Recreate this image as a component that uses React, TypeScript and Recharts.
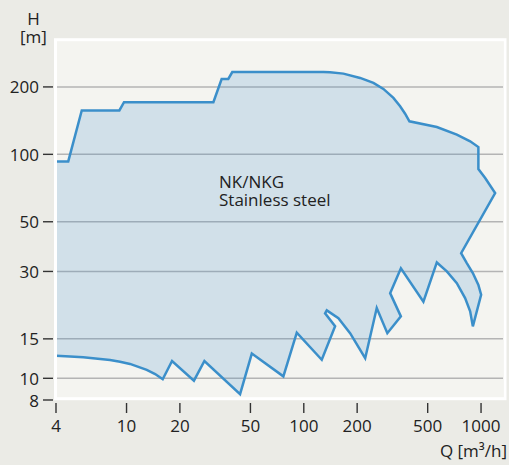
import React from 'react';
import { ComposedChart, Scatter, XAxis, YAxis, CartesianGrid } from 'recharts';

// outline of the NK/NKG field
// top edge, left to right
const topQ = [4, 4.69, 5.59, 9.11, 9.68, 30.9, 34.4, 37.5, 39.5, 129, 140.7, 167.3, 207.8, 247.1, 281.2, 320.3, 349.5, 372.9, 394.4];
const topH = [93, 93, 157, 157, 171, 171, 217, 217, 233, 233, 232.4, 229.3, 219.4, 208.4, 195.9, 178.6, 163.8, 151.9, 140.4];

// right edge, top to bottom
const rightQ = [563, 730, 868, 966, 966, 1055, 1201, 772, 831, 899, 966, 1001, 899];
const rightH = [132.5, 122.4, 114.3, 107.8, 86, 78.4, 67.2, 36.2, 32.7, 29.5, 26.1, 23.6, 17.05];

// bottom edge, right to left
const bottomQ = [868, 813, 730, 641, 563, 473, 353, 307, 353, 296, 258, 222, 182.5, 156.8, 134.8, 131.9, 150.2, 126.3, 91.3, 76.7, 50.9, 43.7, 27.5, 24.0, 18.06, 16.0, 14.5, 13.0, 10.46, 9.19, 8.07, 5.7, 4.8, 4];
const bottomH = [19.9, 22.8, 26.6, 30, 32.9, 22, 31, 24, 18.9, 15.9, 20.6, 12.3, 15.9, 18.55, 20.1, 19.5, 17.1, 12.1, 16, 10.2, 12.9, 8.5, 11.95, 9.76, 11.95, 9.9, 10.45, 10.9, 11.59, 11.86, 12.08, 12.42, 12.5, 12.6];

const xTicks = [4, 10, 20, 50, 100, 200, 500, 1000];
const yTicks = [8, 10, 15, 30, 50, 100, 200];
const gridValues = [10, 15, 30, 50, 100, 200];

const outline = [
  ...topQ.map((q, i) => ({ q, h: topH[i] })),
  ...rightQ.map((q, i) => ({ q, h: rightH[i] })),
  ...bottomQ.map((q, i) => ({ q, h: bottomH[i] })),
];

const FONT = '"Open Sans", sans-serif';

const YTick = (props: any) => {
  const { x, y, payload } = props;
  return (
    <g>
      <line x1={x - 13} x2={x - 3} y1={y} y2={y} stroke="#333" strokeWidth={1.4} />
      <text x={x - 17} y={y + 6.5} textAnchor="end" fontFamily={FONT} fontSize={17} fill="#222">
        {payload.value}
      </text>
    </g>
  );
};

const XTick = (props: any) => {
  const { x, y, payload } = props;
  return (
    <g>
      <line x1={x} x2={x} y1={y + 3} y2={y + 13} stroke="#333" strokeWidth={1.4} />
      <text x={x} y={y + 31.5} textAnchor="middle" fontFamily={FONT} fontSize={17} fill="#222">
        {payload.value}
      </text>
    </g>
  );
};

export default function App() {
  return (
    <div style={{ position: 'absolute', left: 0, top: 0, width: 509, height: 465, background: '#ebebe6' }}>
      <ComposedChart width={509} height={465} data={outline} margin={{ top: 40, right: 6, bottom: 0, left: 0 }}>
        <CartesianGrid
          vertical={false}
          horizontalValues={gridValues}
          stroke="#b4b4b4"
          strokeWidth={1.5}
          fill="#f4f4f0"
          fillOpacity={1}
        />
        <XAxis
          dataKey="q"
          type="number"
          scale="log"
          domain={[4, 1330]}
          allowDataOverflow
          ticks={xTicks}
          axisLine={false}
          tickLine={false}
          tickSize={0}
          tickMargin={0}
          height={65}
          tick={<XTick />}
          interval={0}
        />
        <YAxis
          dataKey="h"
          type="number"
          scale="log"
          domain={[8, 324]}
          allowDataOverflow
          ticks={yTicks}
          axisLine={false}
          tickLine={false}
          tickSize={0}
          tickMargin={0}
          width={56}
          tick={<YTick />}
          interval={0}
        />
        <Scatter
          data={outline}
          fill="none"
          shape={() => <g />}
          line={{ fill: '#3c8cc8', fillOpacity: 0.19, stroke: '#3b8fca', strokeWidth: 2.5 }}
          lineType="joint"
          isAnimationActive={false}
        />
      </ComposedChart>
      <svg
        width={509}
        height={465}
        style={{ position: 'absolute', left: 0, top: 0, pointerEvents: 'none' }}
        fontFamily={FONT}
        fontSize={17}
        fill="#222"
      >
        {/* white frame round the plot area */}
        <rect x={55.5} y={39.7} width={449.5} height={359} fill="none" stroke="#ffffff" strokeWidth={3} />
        <text textAnchor="middle">
          <tspan x={33.5} y={25}>H</tspan>
          <tspan x={33.5} y={43}>[m]</tspan>
        </text>
        <text>
          <tspan x={219} y={187.7}>NK/NKG</tspan>
          <tspan x={219} y={206}>Stainless steel</tspan>
        </text>
        <text x={507} y={456.5} textAnchor="end">Q [m³/h]</text>
      </svg>
    </div>
  );
}
